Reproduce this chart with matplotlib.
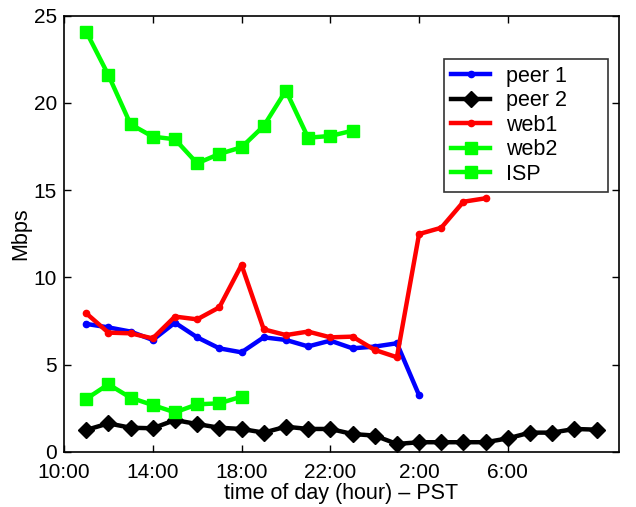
import matplotlib
matplotlib.use("Agg")
import matplotlib.pyplot as plt

plt.rcParams['font.family'] = ['Liberation Sans', 'DejaVu Sans']

# hours since midnight of the first day (24 = 0:00 next day)
hours_peer1 = list(range(11, 27))
peer1 = [7.34, 7.14, 6.9, 6.42, 7.41, 6.57, 5.94, 5.71, 6.57, 6.42, 6.05,
         6.38, 5.94, 6.04, 6.23, 3.25]

hours_peer2 = list(range(11, 35))
peer2 = [1.26, 1.64, 1.39, 1.36, 1.83, 1.6, 1.39, 1.32, 1.11, 1.45, 1.32,
         1.32, 1.03, 0.94, 0.46, 0.56, 0.56, 0.56, 0.56, 0.78, 1.11, 1.11,
         1.32, 1.28]

hours_web1 = list(range(11, 30))
web1 = [7.95, 6.84, 6.8, 6.51, 7.76, 7.6, 8.29, 10.72, 7.03, 6.7, 6.9,
        6.57, 6.61, 5.85, 5.43, 12.49, 12.85, 14.34, 14.54]

hours_web2 = list(range(11, 24))
web2 = [24.09, 21.6, 18.78, 18.07, 17.92, 16.54, 17.08, 17.46, 18.68,
        20.71, 18.01, 18.11, 18.41]

hours_isp = list(range(11, 19))
isp = [3.04, 3.88, 3.11, 2.69, 2.27, 2.73, 2.79, 3.17]

xticks = [10, 14, 18, 22, 26, 30]
xtick_labels = ['10:00', '14:00', '18:00', '22:00', '2:00', '6:00']

fig = plt.figure(figsize=(6.36, 5.07), dpi=100)
ax = fig.add_axes([0.1006, 0.1085, 0.8724, 0.8605])

lw = 3.2
ax.plot(hours_peer1, peer1, color='#0000ff', lw=lw, marker='o', ms=4.5, label='peer 1')
ax.plot(hours_peer2, peer2, color='black', lw=lw, marker='D', ms=8, label='peer 2')
ax.plot(hours_web1, web1, color='#ff0000', lw=lw, marker='o', ms=4.5, label='web1')
ax.plot(hours_web2, web2, color='#00ff00', lw=lw, marker='s', ms=8, label='web2')
ax.plot(hours_isp, isp, color='#00ff00', lw=lw, marker='s', ms=8, label='ISP')

ax.set_xlim(10, 35)
ax.set_ylim(0, 25)
ax.set_xticks(xticks)
ax.set_xticklabels(xtick_labels)
ax.set_yticks([0, 5, 10, 15, 20, 25])
ax.tick_params(direction='in', top=True, right=True, length=5, width=1,
               labelsize=15)
ax.tick_params(axis='x', pad=8)
ax.tick_params(axis='y', pad=5)
for s in ax.spines.values():
    s.set_linewidth(1.2)

ax.set_xlabel('time of day (hour) \u2013 PST', fontsize=15.5, labelpad=1)
ax.set_ylabel('Mbps', fontsize=15.5, labelpad=2)

# fixed-width legend box, entries left-aligned inside
leg = ax.legend(loc='upper left', bbox_to_anchor=(0.685, 0.0, 0.295, 0.901),
                mode='expand', fontsize=15.5, frameon=True, fancybox=False,
                handlelength=1.8, handletextpad=0.75, borderpad=0.33,
                labelspacing=0.16, borderaxespad=0)
leg.get_frame().set_edgecolor('black')
leg.get_frame().set_linewidth(1.2)

fig.savefig('out.png', dpi=100)
